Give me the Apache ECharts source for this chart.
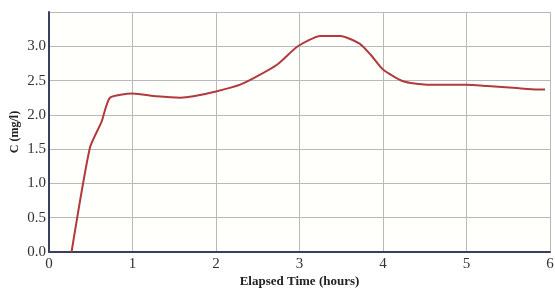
<!DOCTYPE html>
<html>
<head>
<meta charset="utf-8">
<script src="https://cdn.jsdelivr.net/npm/echarts@6/dist/echarts.min.js"></script>
<style>
  html, body { margin: 0; padding: 0; background: #fff; }
  #chart { width: 555px; height: 293px; }
</style>
</head>
<body>
<div id="chart"></div>
<script>
  // elapsed time (hours) and concentration (mg/l)
  var hours = [0.27, 0.49, 0.63, 0.73, 1.0, 1.29, 1.57, 1.73, 2.0, 2.29, 2.49, 2.73, 2.98, 3.25, 3.49, 3.72, 3.85, 4.0, 4.24, 4.52, 5.0, 5.25, 5.6, 5.85, 5.94];
  var conc = [0.0, 1.52, 1.9, 2.25, 2.31, 2.27, 2.25, 2.27, 2.34, 2.44, 2.56, 2.73, 3.0, 3.15, 3.15, 3.04, 2.88, 2.66, 2.49, 2.44, 2.44, 2.42, 2.39, 2.37, 2.37];
  var yTicks = ['0.0', '0.5', '1.0', '1.5', '2.0', '2.5', '3.0'];

  var chart = echarts.init(document.getElementById('chart'));
  var serif = '"Liberation Serif", "DejaVu Serif", serif';

  chart.setOption({
    backgroundColor: '#ffffff',
    animation: false,
    grid: {
      left: 49, right: 5, top: 12, bottom: 41,
      outerBoundsMode: 'none',
      show: true,
      backgroundColor: '#fffffb',
      borderWidth: 0
    },
    xAxis: {
      type: 'value',
      min: 0, max: 6, interval: 1,
      name: 'Elapsed Time (hours)',
      nameLocation: 'middle',
      nameGap: 23,
      nameMoveOverlap: false,
      nameTextStyle: { fontFamily: serif, fontWeight: 'bold', fontSize: 13, color: '#222' },
      axisLine: { lineStyle: { color: '#3b3f5e', width: 2 } },
      axisTick: { show: false },
      axisLabel: { fontFamily: serif, fontSize: 15, color: '#333', margin: 5 },
      splitLine: { show: true, lineStyle: { color: '#b8b8be', width: 1 } }
    },
    yAxis: {
      type: 'value',
      min: 0, max: 3.5, interval: 0.5,
      name: 'C (mg/l)',
      nameLocation: 'middle',
      nameGap: 28,
      nameMoveOverlap: false,
      nameRotate: 90,
      nameTextStyle: { fontFamily: serif, fontWeight: 'bold', fontSize: 12, color: '#222' },
      axisLine: { show: true, lineStyle: { color: '#3b3f5e', width: 2 } },
      axisTick: { show: false },
      axisLabel: {
        fontFamily: serif, fontSize: 15, color: '#333', margin: 3,
        formatter: function (v) {
          var s = v.toFixed(1);
          return yTicks.indexOf(s) >= 0 ? s : '';
        }
      },
      splitLine: { show: true, lineStyle: { color: '#b8b8be', width: 1 } }
    },
    series: [
      {
        type: 'line',
        data: hours.map(function (h, i) { return [h, conc[i]]; }),
        showSymbol: false,
        smooth: 0.2,
        lineStyle: { color: '#b03a3e', width: 2 }
      }
    ]
  });
</script>
</body>
</html>
